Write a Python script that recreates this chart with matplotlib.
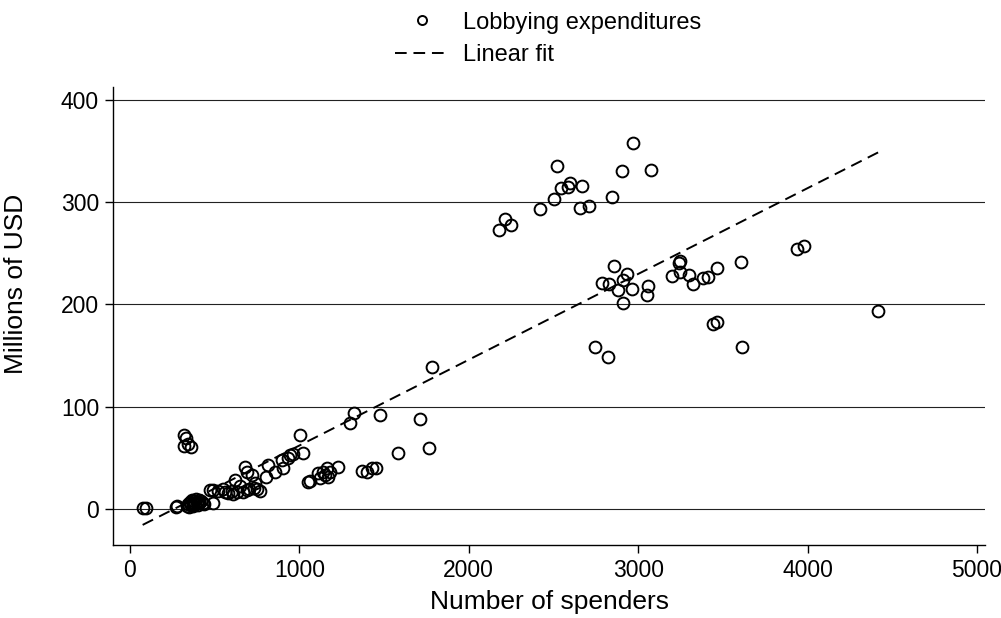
import numpy as np
import matplotlib
matplotlib.use('Agg')
import matplotlib.pyplot as plt

plt.rcParams['font.family'] = ['Liberation Sans', 'DejaVu Sans']

# number of spenders (x) and lobbying expenditures in millions USD (y)
spenders = [
    75, 95, 271, 280,
    335, 345, 350, 355, 360, 365, 370, 375, 380, 385, 390, 395, 400, 405, 410, 420, 430, 440,
    490,
    319, 331, 322, 345, 360,
    472, 490, 520, 549, 560, 579, 600, 610, 620, 632, 650, 667, 679, 690, 691, 700, 720, 730,
    740, 750, 767,
    803, 815, 856, 897, 903, 933, 945, 960,
    1004, 1021, 1051, 1060, 1110, 1122, 1140, 1151, 1163, 1170, 1180, 1228,
    1299, 1322, 1370, 1399, 1428, 1452, 1476, 1582, 1712, 1765, 1783,
    2178, 2214, 2249, 2420, 2503, 2521, 2544, 2586, 2597, 2668, 2656, 2710, 2845, 2904, 2969, 3076,
    2857, 2786, 2828, 2934, 2910, 2881, 2963, 2910, 3058, 3052, 3200, 3247, 3241, 3247,
    3300, 3323, 3383, 3412, 3465, 3607, 3937, 3979,
    2745, 2822, 3442, 3465, 3613, 4416,
]
expenditures = [
    1, 1, 2, 3,
    3, 5, 2, 7, 4, 9, 6, 3, 8, 5, 10, 7, 4, 9, 6, 8, 6, 5,
    6,
    72, 69, 62, 64, 61,
    19, 19, 18, 20, 17, 16, 18, 15, 28, 17, 22, 17, 41, 19, 36, 20, 33, 21,
    25, 20, 18,
    31, 43, 36, 48, 40, 50, 53, 54,
    72, 55, 26, 27, 35, 30, 36, 33, 40, 31, 36, 41,
    84, 94, 37, 36, 40, 40, 92, 55, 88, 60, 139,
    273, 283, 278, 293, 303, 335, 314, 315, 319, 316, 294, 296, 305, 330, 358, 331,
    238, 221, 220, 230, 224, 214, 215, 201, 218, 209, 228, 242, 240, 232,
    229, 220, 226, 227, 236, 241, 254, 257,
    158, 149, 181, 183, 158, 194,
]

x = np.array(spenders, dtype=float)
y = np.array(expenditures, dtype=float)
slope, intercept = np.polyfit(x, y, 1)
fit_x = np.array([x.min(), x.max()])
fit_y = intercept + slope * fit_x

fig = plt.figure(figsize=(10.01, 6.18), dpi=100)
ax = fig.add_axes([113 / 1001, 1 - 545 / 618, (985 - 113) / 1001, (545 - 87) / 618])

ax.set_xlim(-100, 5047)
ax.set_ylim(-35.2, 412.5)

ax.set_yticks([0, 100, 200, 300, 400])
ax.set_xticks([0, 1000, 2000, 3000, 4000, 5000])
ax.yaxis.grid(True, color='#222222', linewidth=0.8)
ax.set_axisbelow(True)

pts, = ax.plot(x, y, 'o', ms=8.5, mfc='none', mec='black', mew=1.4,
               label='Lobbying expenditures')
fit, = ax.plot(fit_x, fit_y, color='black', lw=1.4, linestyle=(0, (6, 3.5)),
               label='Linear fit')

for s in ['top', 'right']:
    ax.spines[s].set_visible(False)
for s in ['left', 'bottom']:
    ax.spines[s].set_linewidth(1.0)
ax.tick_params(direction='out', length=6, width=1.0, labelsize=16.5, pad=4)

ax.set_xlabel('Number of spenders', fontsize=19, labelpad=6)
ax.set_ylabel('Millions of USD', fontsize=19)
ax.yaxis.set_label_coords(-0.0975, 0.57)

leg_circle, = ax.plot([], [], 'o', ms=6.5, mfc='none', mec='black', mew=1.4)
fig.legend([leg_circle, fit], ['Lobbying expenditures', 'Linear fit'],
           loc='upper left', bbox_to_anchor=(378 / 1001, 1.008), frameon=False,
           fontsize=17, handlelength=2.33, handletextpad=0.55, labelspacing=0.45,
           borderaxespad=0.3)

fig.savefig('out.png', dpi=100)
